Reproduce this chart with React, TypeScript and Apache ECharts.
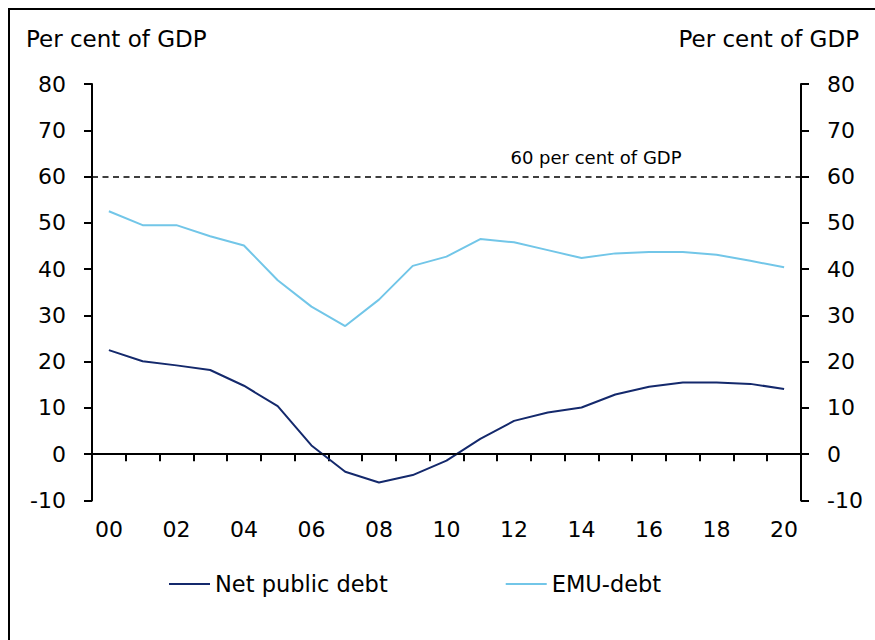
import React, { useEffect, useRef } from "react";
import * as echarts from "echarts";

const years = ["00","01","02","03","04","05","06","07","08","09","10","11","12","13","14","15","16","17","18","19","20"];
const netPublicDebt = [22.5, 20.1, 19.2, 18.2, 14.8, 10.4, 1.9, -3.8, -6.1, -4.5, -1.4, 3.3, 7.2, 9.0, 10.1, 12.9, 14.6, 15.5, 15.5, 15.2, 14.1];
const emuDebt = [52.5, 49.5, 49.5, 47.1, 45.1, 37.6, 31.9, 27.7, 33.4, 40.7, 42.7, 46.5, 45.8, 44.1, 42.4, 43.4, 43.7, 43.7, 43.1, 41.8, 40.4];
const referenceLevel = 60;
const yMin = -10;
const yMax = 80;
const yStep = 10;

const FONT = "DejaVu Sans, Verdana, sans-serif";

export default function App() {
  const ref = useRef<HTMLDivElement>(null);
  useEffect(() => {
    document.body.style.margin = "0";
    const chart = echarts.init(ref.current!, undefined, { renderer: "svg" });
    const axisLine = { show: true, lineStyle: { color: "#000", width: 2 } };
    const yAxisBase = {
      type: "value" as const,
      min: yMin,
      max: yMax,
      interval: yStep,
      splitLine: { show: false },
      axisLine,
      axisTick: { show: true, length: 8, lineStyle: { color: "#000", width: 2 } },
      axisLabel: { color: "#000", fontSize: 22, fontFamily: FONT, margin: 26 },
    };
    chart.setOption({
      animation: false,
      backgroundColor: "#fff",
      textStyle: { fontFamily: FONT },
      grid: { left: 92, right: 74, top: 84, height: 416.5 },
      graphic: [
        { type: "text", left: 26, top: 27, style: { text: "Per cent of GDP", fontSize: 23, fontFamily: FONT, fill: "#000" } },
        { type: "text", right: 16, top: 27, style: { text: "Per cent of GDP", fontSize: 23, fontFamily: FONT, fill: "#000" } },
        { type: "text", x: 596, y: 157, style: { text: "60 per cent of GDP", fontSize: 18, fontFamily: FONT, fill: "#000", align: "center", verticalAlign: "middle" } },
      ],
      legend: {
        left: 169,
        top: 572,
        padding: 0,
        itemGap: 118,
        itemWidth: 41,
        itemHeight: 2,
        textStyle: { fontSize: 22.5, fontFamily: FONT, color: "#000", lineHeight: 24 },
        data: [
          { name: "Net public debt", icon: "rect" },
          { name: "EMU-debt", icon: "rect" },
        ],
      },
      xAxis: {
        type: "category",
        data: years,
        boundaryGap: true,
        axisLine,
        axisTick: { show: true, interval: 0, length: 7, lineStyle: { color: "#000", width: 2 } },
        axisLabel: { interval: 1, color: "#000", fontSize: 22, fontFamily: FONT, margin: 18 },
        splitLine: { show: false },
      },
      yAxis: [
        { ...yAxisBase, position: "left" },
        { ...yAxisBase, position: "right" },
      ],
      series: [
        {
          name: "Net public debt",
          type: "line",
          data: netPublicDebt,
          symbol: "none",
          lineStyle: { color: "#14296c", width: 2 },
          itemStyle: { color: "#14296c" },
          markLine: {
            silent: true,
            symbol: "none",
            label: { show: false },
            data: [
              { yAxis: 0, lineStyle: { color: "#000", width: 1.5, type: "solid" } },
              { yAxis: referenceLevel, lineStyle: { color: "#000", width: 1.5, type: [6, 4.5] } },
            ],
          },
        },
        {
          name: "EMU-debt",
          type: "line",
          data: emuDebt,
          symbol: "none",
          lineStyle: { color: "#72c6e8", width: 2 },
          itemStyle: { color: "#72c6e8" },
        },
      ],
    });
    return () => chart.dispose();
  }, []);
  return (
    <div style={{ position: "relative", width: 875, height: 640, overflow: "hidden" }}>
      <div ref={ref} style={{ width: 875, height: 640 }} />
      <div
        style={{
          position: "absolute",
          left: 8,
          top: 8,
          width: 880,
          height: 640,
          borderTop: "2px solid #000",
          borderLeft: "2px solid #000",
          pointerEvents: "none",
        }}
      />
    </div>
  );
}
